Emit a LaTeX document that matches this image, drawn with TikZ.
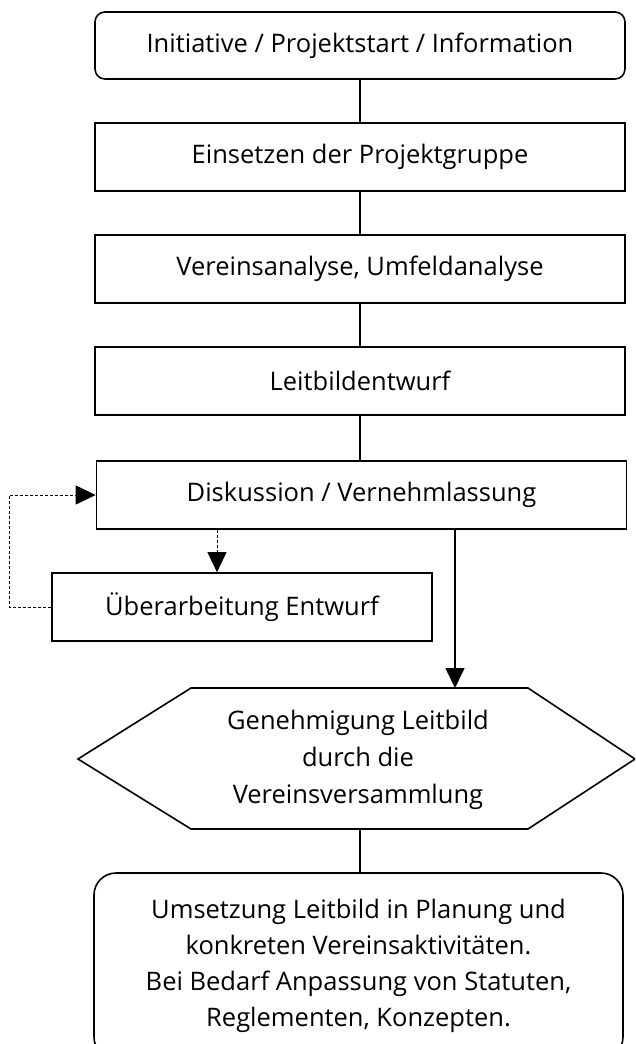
\documentclass[tikz,border=0pt]{standalone}
\usepackage{fontspec}
\setmainfont{Open Sans}
\usetikzlibrary{arrows.meta,calc}
\begin{document}
\begin{tikzpicture}[x=1pt,y=-1pt,
  box/.style={draw,line width=1.6pt,minimum width=530pt,minimum height=68pt,inner sep=0pt,font=\fontsize{25.5}{30}\selectfont},
  conn/.style={line width=1.6pt},
  tri/.style={-{Triangle[length=20pt 0,width=19pt 0]}},
  dsh/.style={dashed,dash pattern=on 3pt off 2pt,line width=0.9pt}]
\useasboundingbox (0,0) rectangle (635,1044);
\clip (0,0) rectangle (635,1044);
\node[box,rounded corners=10pt,minimum height=67pt] (b1) at (360,45.5) {Initiative / Projektstart / Information};
\node[box] (b2) at (360,157) {Einsetzen der Projektgruppe};
\node[box] (b3) at (360,269) {Vereinsanalyse, Umfeldanalyse};
\node[box] (b4) at (360,381) {Leitbildentwurf};
\node[box] (d) at (361.5,495) {Diskussion / Vernehmlassung};
\node[box,minimum width=380pt] (u) at (242,607) {Überarbeitung Entwurf};
% hexagon
\draw[line width=1.6pt] (78,759) -- (191,688) -- (528,688) -- (635,759) -- (528,829) -- (191,829) -- cycle;
\node[align=center,font=\fontsize{25.5}{37}\selectfont] (hex) at (358,760) {Genehmigung Leitbild\\durch die\\Vereinsversammlung};
\coordinate (hextop) at (455,688);
\coordinate (hexbot) at (360,829);
% bottom box
\node[draw,line width=1.6pt,rounded corners=22pt,minimum width=529pt,minimum height=186pt,align=center,font=\fontsize{25.5}{36}\selectfont] (f) at (358.5,966) {Umsetzung Leitbild in Planung und\\konkreten Vereinsaktivitäten.\\Bei Bedarf Anpassung von Statuten,\\Reglementen, Konzepten.};
\coordinate (dx) at (217,0);
\coordinate (ax) at (455,0);
\coordinate (cx) at (360,0);
\draw[conn] (b1.south -| cx) -- (b2.north -| cx);
\draw[conn] (b2.south -| cx) -- (b3.north -| cx);
\draw[conn] (b3.south -| cx) -- (b4.north -| cx);
\draw[conn] (b4.south -| cx) -- (d.north -| cx);
\draw[conn,tri] (d.south -| ax) -- (hextop);
\draw[conn] (hexbot) -- (f.north -| cx);
\draw[dsh,tri] (d.south -| dx) -- (u.north -| dx);
\draw[dsh,tri] (u.west) -- ++(-42,0) |- (d.west);
\end{tikzpicture}
\end{document}
